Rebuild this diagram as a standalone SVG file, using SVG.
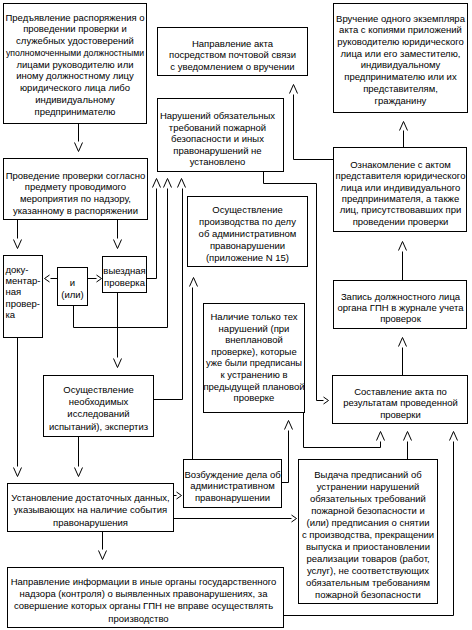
<svg xmlns="http://www.w3.org/2000/svg" xmlns:xlink="http://www.w3.org/1999/xlink" width="472" height="630" viewBox="0 0 472 630">
<style>
.b{fill:#fff;stroke:#000;stroke-width:1}
.t{font-family:"Liberation Sans",Arial,sans-serif;font-size:9.5px;fill:#000;text-anchor:middle}
.l{text-anchor:start}
.c{fill:none;stroke:#000;stroke-width:1}
</style>
<defs>
<path id="dn" class="c" d="M-4,0 L0,9 L4,0"/>
<path id="up" class="c" d="M-4,9 L0,0 L4,9"/>
<path id="rt" class="c" d="M0,-3.5 L5,0 L0,3.5"/>
<path id="lt" class="c" d="M5,-3.5 L0,0 L5,3.5"/>
</defs>
<rect width="472" height="630" fill="#fff"/>
<g transform="translate(0.5,0.5)">
<g id="connectors" class="c">
<path d="M78,123 V141"/><use xlink:href="#dn" x="78" y="142"/>
<path d="M17,219 V238"/><use xlink:href="#dn" x="17" y="239"/>
<path d="M117,219 V238"/><use xlink:href="#dn" x="117" y="239"/>
<path d="M57,278 H50"/><use xlink:href="#lt" x="44" y="278"/>
<path d="M87,278 H96"/><use xlink:href="#rt" x="96" y="278"/>
<path d="M146,278 H156 V188"/><use xlink:href="#up" x="156" y="178"/>
<path d="M73,305 V327 H167 V188"/><use xlink:href="#up" x="167" y="178"/>
<path d="M153,399 H182 V188"/><use xlink:href="#up" x="181" y="178"/>
<path d="M117,292 V357"/><use xlink:href="#dn" x="117" y="358"/>
<path d="M17,337 V466"/><use xlink:href="#dn" x="17" y="467"/>
<path d="M78,436 V466"/><use xlink:href="#dn" x="78" y="467"/>
<path d="M173,495 H176"/><use xlink:href="#rt" x="176" y="495"/>
<path d="M173,518 H291"/><use xlink:href="#rt" x="291" y="518"/>
<path d="M102,531 V549"/><use xlink:href="#dn" x="102" y="550"/>
<path d="M283,615 H453 V441"/><use xlink:href="#up" x="453" y="431"/>
<path d="M407,459 V441"/><use xlink:href="#up" x="407" y="431"/>
<path d="M303,412 V447 H380 V441"/><use xlink:href="#up" x="380" y="431"/>
<path d="M281,482 H288 V430"/><use xlink:href="#up" x="288" y="420"/>
<path d="M192,459 V287"/><use xlink:href="#up" x="193" y="277"/>
<path d="M263,171 V183 H316 V400 H323"/><use xlink:href="#rt" x="323" y="400"/>
<path d="M402,375 V347"/><use xlink:href="#up" x="402" y="337"/>
<path d="M402,280 V251"/><use xlink:href="#up" x="402" y="241"/>
<path d="M403,147 V130"/><use xlink:href="#up" x="403" y="121"/>
<path d="M333,159 H293 V94"/><use xlink:href="#up" x="293" y="84"/>
</g>
<g id="n1"><rect class="b" x="3" y="3" width="143" height="120"/>
<text class="t"><tspan x="74.5" y="20">Предъявление распоряжения о</tspan><tspan x="74.5" y="31">проведении проверки и</tspan><tspan x="74.5" y="43">служебных удостоверений</tspan></text>
<text class="t" x="74.5" y="55" textLength="138" lengthAdjust="spacingAndGlyphs">уполномоченными должностными</text>
<text class="t"><tspan x="74.5" y="67">лицами руководителю или</tspan><tspan x="74.5" y="78">иному должностному лицу</tspan><tspan x="74.5" y="90">юридического лица либо</tspan><tspan x="74.5" y="102">индивидуальному</tspan><tspan x="74.5" y="114">предпринимателю</tspan></text></g>
<g id="n2"><rect class="b" x="157" y="27" width="150" height="48"/>
<text class="t"><tspan x="232" y="46">Направление акта</tspan><tspan x="232" y="57">посредством почтовой связи</tspan><tspan x="232" y="69">с уведомлением о вручении</tspan></text></g>
<g id="n3"><rect class="b" x="333" y="3" width="134" height="109"/>
<text class="t"><tspan x="400" y="21">Вручение одного экземпляра</tspan><tspan x="400" y="32">акта с копиями приложений</tspan><tspan x="400" y="44">руководителю юридического</tspan><tspan x="400" y="56">лица или его заместителю,</tspan><tspan x="400" y="67">индивидуальному</tspan><tspan x="400" y="79">предпринимателю или их</tspan><tspan x="400" y="91">представителям,</tspan><tspan x="400" y="103">гражданину</tspan></text></g>
<g id="n4"><rect class="b" x="3" y="158" width="144" height="61"/>
<text class="t"><tspan x="75" y="178">Проведение проверки согласно</tspan><tspan x="75" y="189">предмету проводимого</tspan><tspan x="75" y="201">мероприятия по надзору,</tspan><tspan x="75" y="213">указанному в распоряжении</tspan></text></g>
<g id="n5"><rect class="b" x="3" y="255" width="39" height="82"/>
<text class="t l"><tspan x="5" y="272">доку-</tspan><tspan x="5" y="283">ментар-</tspan><tspan x="5" y="294">ная</tspan><tspan x="5" y="306">провер-</tspan><tspan x="5" y="317">ка</tspan></text></g>
<g id="n6"><rect class="b" x="57" y="267" width="30" height="38"/>
<text class="t"><tspan x="72" y="285">и</tspan><tspan x="72" y="297">(или)</tspan></text></g>
<g id="n7"><rect class="b" x="102" y="256" width="44" height="36"/>
<text class="t"><tspan x="124" y="273">выездная</tspan><tspan x="124" y="285">проверка</tspan></text></g>
<g id="n8"><rect class="b" x="157" y="98" width="126" height="73"/>
<text class="t"><tspan x="217" y="118">Нарушений обязательных</tspan><tspan x="217" y="130">требований пожарной</tspan><tspan x="217" y="141">безопасности и иных</tspan><tspan x="217" y="153">правонарушений не</tspan><tspan x="217" y="164">установлено</tspan></text></g>
<g id="n9"><rect class="b" x="187" y="196" width="120" height="70"/>
<text class="t"><tspan x="247" y="212">Осуществление</tspan><tspan x="247" y="224">производства по делу</tspan><tspan x="247" y="236">об административном</tspan><tspan x="247" y="248">правонарушении</tspan><tspan x="247" y="260">(приложение N 15)</tspan></text></g>
<g id="n10"><rect class="b" x="203" y="303" width="101" height="109"/>
<text class="t"><tspan x="253.5" y="319">Наличие только тех</tspan><tspan x="253.5" y="331">нарушений (при</tspan><tspan x="253.5" y="342">внеплановой</tspan><tspan x="253.5" y="354">проверке), которые</tspan></text>
<text class="t" x="253.5" y="365" textLength="96" lengthAdjust="spacingAndGlyphs">уже были предписаны</text>
<text class="t"><tspan x="253.5" y="377">к устранению в</tspan><tspan x="253.5" y="389">предыдущей плановой</tspan><tspan x="253.5" y="400">проверке</tspan></text></g>
<g id="n11"><rect class="b" x="333" y="147" width="133" height="84"/>
<text class="t"><tspan x="400" y="167">Ознакомление с актом</tspan><tspan x="400" y="178">представителя юридического</tspan><tspan x="400" y="190">лица или индивидуального</tspan><tspan x="400" y="201">предпринимателя, а также</tspan><tspan x="400" y="212">лиц, присутствовавших при</tspan><tspan x="400" y="224">проведении проверки</tspan></text></g>
<g id="n12"><rect class="b" x="333" y="280" width="133" height="48"/>
<text class="t"><tspan x="400" y="299">Запись должностного лица</tspan><tspan x="400" y="310">органа ГПН в журнале учета</tspan><tspan x="400" y="321">проверок</tspan></text></g>
<g id="n13"><rect class="b" x="332" y="375" width="135" height="48"/>
<text class="t"><tspan x="400" y="394">Составление акта по</tspan><tspan x="400" y="405">результатам проведенной</tspan><tspan x="400" y="417">проверки</tspan></text></g>
<g id="n14"><rect class="b" x="43" y="375" width="110" height="61"/>
<text class="t"><tspan x="98" y="392">Осуществление</tspan><tspan x="98" y="404">необходимых</tspan><tspan x="98" y="416">исследований</tspan><tspan x="98" y="429">испытаний), экспертиз</tspan></text></g>
<g id="n15"><rect class="b" x="7" y="483" width="166" height="48"/>
<text class="t"><tspan x="90" y="500">Установление достаточных данных,</tspan><tspan x="90" y="512">указывающих на наличие события</tspan><tspan x="90" y="525">правонарушения</tspan></text></g>
<g id="n16"><rect class="b" x="183" y="459" width="98" height="48"/>
<text class="t"><tspan x="232" y="477">Возбуждение дела об</tspan><tspan x="232" y="488">административном</tspan><tspan x="232" y="500">правонарушении</tspan></text></g>
<g id="n17"><rect class="b" x="298" y="459" width="139" height="144"/>
<text class="t"><tspan x="367.5" y="477">Выдача предписаний об</tspan><tspan x="367.5" y="489">устранении нарушений</tspan><tspan x="367.5" y="501">обязательных требований</tspan><tspan x="367.5" y="513">пожарной безопасности и</tspan><tspan x="367.5" y="525">(или) предписания о снятии</tspan><tspan x="367.5" y="537">с производства, прекращении</tspan><tspan x="367.5" y="549">выпуска и приостановлении</tspan><tspan x="367.5" y="561">реализации товаров (работ,</tspan><tspan x="367.5" y="573">услуг), не соответствующих</tspan><tspan x="367.5" y="585">обязательным требованиям</tspan><tspan x="367.5" y="597">пожарной безопасности</tspan></text></g>
<g id="n18"><rect class="b" x="7" y="567" width="276" height="60"/>
<text class="t"><tspan x="143" y="584">Направление информации в иные органы государственного</tspan><tspan x="143" y="596">надзора (контроля) о выявленных правонарушениях, за</tspan><tspan x="143" y="608">совершение которых органы ГПН не вправе осуществлять</tspan><tspan x="138" y="621">производство</tspan></text></g>
</g>
</svg>
